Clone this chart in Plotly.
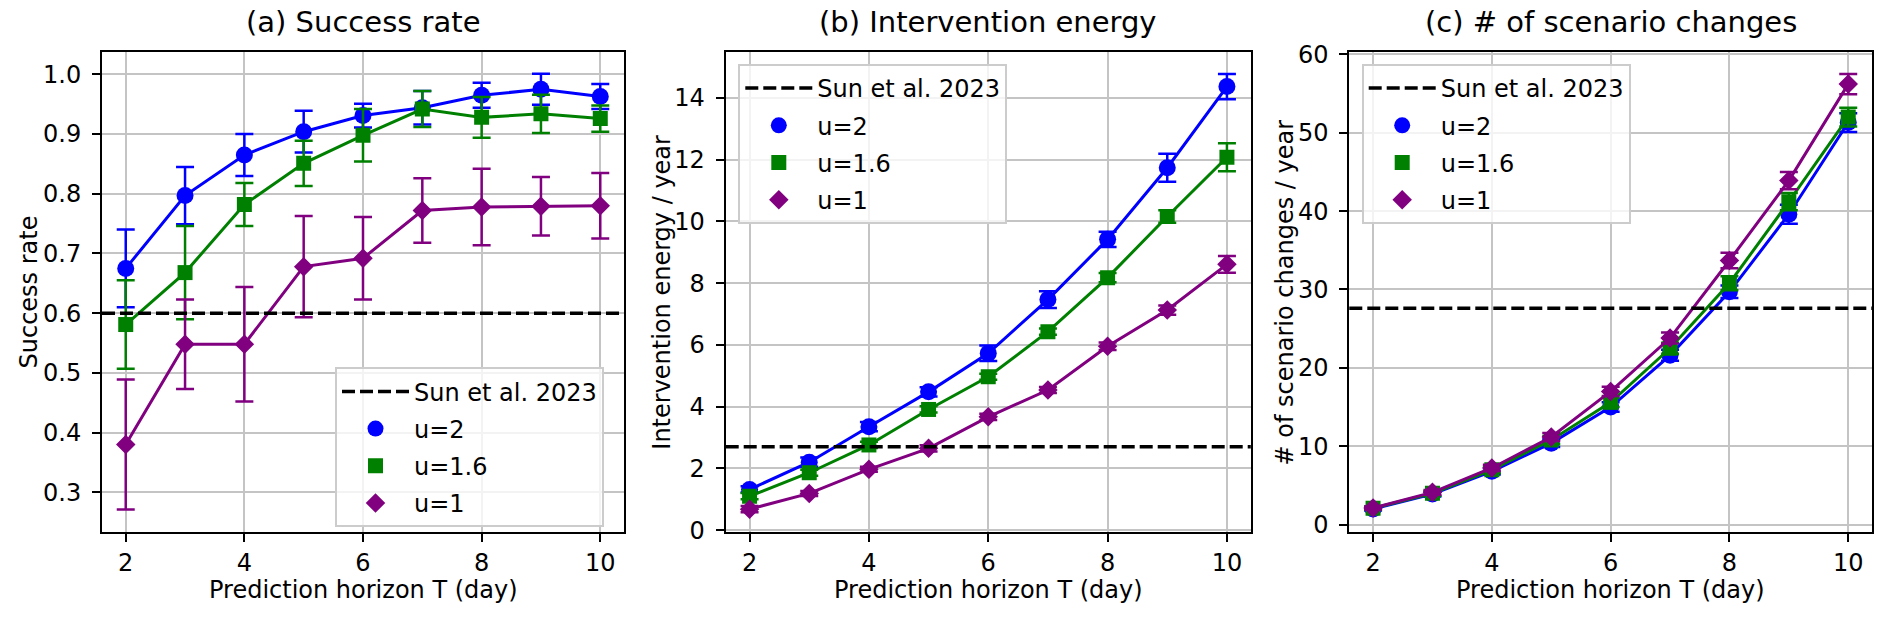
import plotly.graph_objects as go

# ---------------- data ----------------
T = [2, 3, 4, 5, 6, 7, 8, 9, 10]

# (a) success rate
succ_u2 = [0.675, 0.797, 0.865, 0.904, 0.931, 0.944, 0.965, 0.975, 0.963]
succ_u2_err = [0.065, 0.048, 0.035, 0.035, 0.020, 0.028, 0.021, 0.026, 0.021]
succ_u16 = [0.581, 0.668, 0.782, 0.851, 0.898, 0.942, 0.928, 0.934, 0.926]
succ_u16_err = [0.074, 0.078, 0.036, 0.038, 0.044, 0.030, 0.034, 0.032, 0.022]
succ_u1 = [0.380, 0.548, 0.548, 0.678, 0.692, 0.772, 0.778, 0.779, 0.780]
succ_u1_err = [0.109, 0.075, 0.096, 0.085, 0.069, 0.054, 0.064, 0.049, 0.055]
succ_base = 0.60

# (b) intervention energy / year
en_u2 = [1.32, 2.20, 3.35, 4.48, 5.73, 7.47, 9.42, 11.74, 14.37]
en_u2_err = [0.10, 0.15, 0.15, 0.15, 0.25, 0.27, 0.25, 0.45, 0.41]
en_u16 = [1.10, 1.86, 2.76, 3.91, 4.97, 6.43, 8.18, 10.16, 12.08]
en_u16_err = [0.10, 0.10, 0.10, 0.10, 0.10, 0.10, 0.15, 0.20, 0.45]
en_u1 = [0.68, 1.19, 1.97, 2.65, 3.67, 4.54, 5.96, 7.13, 8.61]
en_u1_err = [0.10, 0.08, 0.08, 0.10, 0.10, 0.10, 0.12, 0.15, 0.27]
en_base = 2.70

# (c) number of scenario changes / year
sc_u2 = [2.0, 3.9, 6.8, 10.4, 15.0, 21.6, 29.7, 39.6, 51.3]
sc_u2_err = [0.2, 0.3, 0.4, 0.5, 0.6, 0.7, 0.8, 1.2, 1.2]
sc_u16 = [2.1, 4.0, 7.0, 10.8, 15.6, 22.5, 30.8, 41.2, 52.0]
sc_u16_err = [0.2, 0.3, 0.4, 0.5, 0.6, 0.7, 0.9, 1.1, 1.2]
sc_u1 = [2.13, 4.12, 7.23, 11.18, 17.0, 23.8, 33.7, 43.9, 56.2]
sc_u1_err = [0.2, 0.3, 0.4, 0.5, 0.6, 0.7, 1.0, 1.1, 1.3]
sc_base = 27.6

series_names = ["u=2", "u=1.6", "u=1"]
colors = ["#0000ff", "#008000", "#800080"]
symbols = ["circle", "square", "diamond"]
msizes = [17, 15, 15]

titles = ["(a) Success rate", "(b) Intervention energy", "(c) # of scenario changes"]
ylabels = ["Success rate", "Intervention energy / year", "# of scenario changes / year"]
xlabel = "Prediction horizon T (day)"
base_label = "Sun et al. 2023"

panels = [
    ([succ_u2, succ_u16, succ_u1], [succ_u2_err, succ_u16_err, succ_u1_err], succ_base),
    ([en_u2, en_u16, en_u1], [en_u2_err, en_u16_err, en_u1_err], en_base),
    ([sc_u2, sc_u16, sc_u1], [sc_u2_err, sc_u16_err, sc_u1_err], sc_base),
]

# ---------------- layout geometry ----------------
W, H = 1892, 619


def px_x(px):
    return px / W


def px_y(py):
    return (H - py) / H


x_domains = [[px_x(102), px_x(624)], [px_x(725.7), px_x(1250.8)], [px_x(1349.3), px_x(1872)]]
y_domain = [px_y(531.7), px_y(52.3)]
y_ranges = [[0.234, 1.037], [-0.05, 15.48], [-0.9, 60.26]]
y_dticks = [0.1, 2, 10]
y_formats = [".1f", "d", "d"]
ylabel_x = [px_x(28.5), px_x(661.7), px_x(1285.4)]
legend_pos = [(px_x(335), px_y(367.3)), (px_x(738.3), px_y(64)), (px_x(1361.7), px_y(64))]
legend_ids = ["legend", "legend2", "legend3"]

FONT = "DejaVu Sans"

fig = go.Figure()

for p, (ys, errs, base) in enumerate(panels):
    xa = "x" if p == 0 else f"x{p+1}"
    ya = "y" if p == 0 else f"y{p+1}"
    lg = legend_ids[p]
    # legend entry for baseline
    fig.add_trace(go.Scatter(x=[None], y=[None], mode="lines", name=base_label,
                             line=dict(color="black", width=3.5, dash="13px,5px"),
                             xaxis=xa, yaxis=ya, legend=lg, showlegend=True,
                             legendgroup=f"{p}base"))
    for s in range(3):
        fig.add_trace(go.Scatter(x=T, y=ys[s], mode="lines",
                                 line=dict(color=colors[s], width=3),
                                 xaxis=xa, yaxis=ya, showlegend=False, hoverinfo="skip"))
        fig.add_trace(go.Scatter(x=T, y=ys[s], mode="markers", name=series_names[s],
                                 marker=dict(color=colors[s], symbol=symbols[s], size=msizes[s],
                                             line=dict(width=0)),
                                 error_y=dict(type="data", array=errs[s], visible=True,
                                              color=colors[s], thickness=2.5, width=9),
                                 xaxis=xa, yaxis=ya, legend=lg, showlegend=True,
                                 legendgroup=f"{p}s{s}"))
    # baseline line across the axes
    fig.add_shape(type="line", xref=f"{xa} domain", yref=ya, x0=0, x1=1, y0=base, y1=base,
                  line=dict(color="black", width=3.5, dash="13px,5px"))

axis_common = dict(showline=True, linecolor="black", linewidth=2, mirror=True,
                   ticks="outside", ticklen=8, tickwidth=2, tickcolor="black",
                   showgrid=True, gridcolor="#c4c4c4", gridwidth=2, zeroline=False,
                   automargin=False,
                   tickfont=dict(family=FONT, size=24, color="black"))

layout = dict(width=W, height=H, margin=dict(l=0, r=0, t=0, b=0, autoexpand=False),
              paper_bgcolor="white", plot_bgcolor="white", font=dict(family=FONT, color="black"))

for p in range(3):
    xk = "xaxis" if p == 0 else f"xaxis{p+1}"
    yk = "yaxis" if p == 0 else f"yaxis{p+1}"
    xa = "x" if p == 0 else f"x{p+1}"
    ya = "y" if p == 0 else f"y{p+1}"
    layout[xk] = dict(axis_common, domain=x_domains[p], range=[1.6, 10.4], tick0=2, dtick=2,
                      anchor=ya, ticklabelstandoff=0)
    layout[yk] = dict(axis_common, domain=y_domain, range=y_ranges[p], dtick=y_dticks[p],
                      tickformat=y_formats[p], anchor=xa, ticklabelstandoff=6)
    lk = legend_ids[p]
    layout[lk] = dict(x=legend_pos[p][0], y=legend_pos[p][1], xanchor="left", yanchor="top",
                      xref="paper", yref="paper",
                      bgcolor="rgba(255,255,255,0.8)", bordercolor="#cccccc", borderwidth=2,
                      font=dict(family=FONT, size=24, color="black"), itemwidth=67,
                      tracegroupgap=3, traceorder="grouped")

fig.update_layout(**layout)

ann = []
for p in range(3):
    cx = (x_domains[p][0] + x_domains[p][1]) / 2
    ann.append(dict(text=titles[p], x=cx, y=px_y(22.5), xref="paper", yref="paper",
                    xanchor="center", yanchor="middle", showarrow=False,
                    font=dict(family=FONT, size=29, color="black")))
    ann.append(dict(text=xlabel, x=cx, y=px_y(590), xref="paper", yref="paper",
                    xanchor="center", yanchor="middle", showarrow=False,
                    font=dict(family=FONT, size=24, color="black")))
    ann.append(dict(text=ylabels[p], x=ylabel_x[p], y=(y_domain[0] + y_domain[1]) / 2,
                    xref="paper", yref="paper", xanchor="center", yanchor="middle",
                    textangle=-90, showarrow=False,
                    font=dict(family=FONT, size=24, color="black")))
fig.update_layout(annotations=ann)

fig.write_html("out.html", config={"displayModeBar": False},
               post_script="document.body.style.margin='0px';document.body.style.padding='0px';")
